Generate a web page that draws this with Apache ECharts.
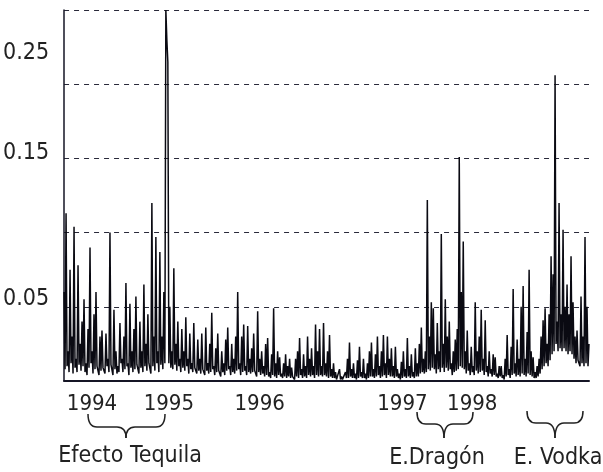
<!DOCTYPE html>
<html>
<head>
<meta charset="utf-8">
<script src="https://cdn.jsdelivr.net/npm/echarts@6/dist/echarts.min.js"></script>
<style>
html,body{margin:0;padding:0;background:#fff;}
#chart{width:603px;height:472px;}
</style>
</head>
<body>
<div id="chart"></div>
<script>
// Volatility series (one value per pixel column of the plot)
const volatility = [
.06,.008,.113,.01,.02,.006,.075,.012,.03,.005,.104,.009,.015,.006,.078,.011,.025,.007,.04,.01,
.055,.006,.012,.004,.035,.009,.09,.012,.02,.005,.045,.008,.06,.01,.01,.004,.03,.007,.034,.009,
.008,.005,.032,.01,.015,.006,.10,.011,.012,.004,.048,.008,.02,.005,.01,.006,.039,.012,.015,.006,
.03,.008,.066,.01,.012,.004,.052,.009,.02,.006,.035,.008,.057,.011,.01,.005,.04,.009,.02,.006,
.065,.01,.025,.007,.045,.012,.013,.005,.12,.01,.03,.007,.097,.012,.02,.006,.087,.011,.03,.008,
.06,.012,.25,.23,.215,.012,.05,.009,.02,.008,.076,.011,.025,.007,.04,.01,.015,.006,.035,.009,
.02,.007,.043,.01,.015,.005,.032,.008,.012,.006,.039,.009,.01,.005,.028,.007,.015,.005,.032,.008,
.008,.004,.036,.007,.012,.005,.025,.006,.046,.008,.01,.004,.022,.006,.032,.007,.008,.003,.02,.006,
.012,.004,.028,.007,.036,.008,.01,.004,.025,.006,.015,.005,.03,.007,.06,.008,.012,.004,.03,.006,
.038,.007,.01,.004,.037,.006,.015,.005,.022,.006,.032,.007,.008,.003,.047,.006,.015,.004,.02,.005,
.01,.003,.025,.004,.029,.003,.006,.002,.018,.004,.049,.003,.012,.002,.02,.004,.016,.003,.005,.002,
.012,.003,.018,.002,.01,.003,.015,.002,.009,.003,.004,.001,.015,.003,.02,.002,.029,.004,.008,.002,
.018,.003,.01,.002,.03,.004,.015,.003,.022,.004,.01,.002,.038,.004,.02,.003,.035,.004,.01,.003,
.039,.004,.012,.003,.02,.002,.031,.003,.008,.002,.012,.002,.006,.001,.002,.001,.008,.001,.003,.001,
.001,.001,.006,.002,.015,.002,.026,.003,.008,.002,.012,.002,.005,.001,.014,.002,.023,.003,.006,.002,
.015,.002,.005,.001,.012,.002,.02,.003,.026,.003,.008,.002,.018,.003,.03,.004,.01,.002,.02,.003,
.031,.004,.012,.002,.03,.004,.015,.003,.022,.003,.01,.002,.023,.003,.008,.002,.005,.001,.013,.002,
.02,.003,.008,.002,.029,.003,.01,.002,.018,.003,.006,.002,.022,.003,.012,.003,.025,.005,.036,.006,
.015,.005,.02,.006,.122,.008,.03,.007,.053,.009,.049,.008,.018,.005,.039,.008,.02,.006,.099,.009,
.025,.006,.055,.009,.03,.007,.04,.008,.012,.004,.02,.006,.028,.007,.035,.008,.151,.01,.06,.009,
.094,.008,.02,.005,.034,.007,.012,.004,.023,.006,.01,.004,.053,.007,.02,.005,.03,.006,.048,.007,
.015,.004,.041,.006,.01,.003,.02,.005,.008,.003,.018,.004,.016,.003,.005,.002,.01,.003,.01,.002,
.004,.001,.015,.003,.031,.004,.008,.002,.023,.004,.062,.005,.012,.003,.028,.004,.015,.003,.05,.005,
.064,.004,.015,.003,.033,.005,.075,.004,.02,.003,.016,.002,.006,.002,.01,.003,.015,.005,.03,.008,
.041,.01,.049,.012,.025,.01,.045,.014,.084,.018,.072,.02,.206,.025,.04,.02,.12,.022,.045,.02,
.102,.022,.05,.02,.065,.018,.045,.02,.084,.018,.053,.015,.03,.012,.034,.014,.015,.01,.057,.012,
.03,.01,.097,.012,.05,.01,.025
];
const observations = volatility.map((_, i) => i);

// Year tick labels and the observation where each is printed
const yearLabels = ['1994', '1995', '1996', '1997', '1998'];
const yearIndex  = [28, 105, 196, 339, 409];

// Y tick labels that are printed
const yTickLabels = ['0.05', '0.15', '0.25'];

// Episode annotations
const episodeNames = ['Efecto Tequila', 'E.Dragón', 'E. Vodka'];

const chart = echarts.init(document.getElementById('chart'), null, {renderer: 'canvas'});
const FONT = "'Liberation Sans Narrow','Arial Narrow','DejaVu Sans Condensed',sans-serif";
const braceStyle = {stroke: '#222', lineWidth: 1.5, fill: null};

function brace(xa, xb, xt, y0, y1, y2) {
  const r = 9;
  return {
    type: 'group',
    children: [
      {type: 'bezierCurve', shape: {x1: xa, y1: y0, cpx1: xa, cpy1: y1, x2: xa + r, y2: y1}, style: braceStyle},
      {type: 'line', shape: {x1: xa + r, y1: y1, x2: xt - r, y2: y1}, style: braceStyle},
      {type: 'bezierCurve', shape: {x1: xt - r, y1: y1, cpx1: xt, cpy1: y1, x2: xt, y2: y2}, style: braceStyle},
      {type: 'bezierCurve', shape: {x1: xt, y1: y2, cpx1: xt, cpy1: y1, x2: xt + r, y2: y1}, style: braceStyle},
      {type: 'line', shape: {x1: xt + r, y1: y1, x2: xb - r, y2: y1}, style: braceStyle},
      {type: 'bezierCurve', shape: {x1: xb - r, y1: y1, cpx1: xb, cpy1: y1, x2: xb, y2: y0}, style: braceStyle}
    ]
  };
}

const option = {
  animation: false,
  backgroundColor: '#ffffff',
  grid: {left: 63, right: 14, top: 10, bottom: 91, containLabel: false},
  xAxis: {
    type: 'category',
    data: observations,
    boundaryGap: false,
    axisLine: {show: true, lineStyle: {color: '#151525', width: 2}},
    axisTick: {show: false},
    splitLine: {show: false},
    axisLabel: {
      show: true,
      interval: (idx) => yearIndex.indexOf(idx) >= 0,
      formatter: (v, idx) => {
        const k = yearIndex.indexOf(idx);
        return k >= 0 ? yearLabels[k] : '';
      },
      margin: 12,
      color: '#222',
      fontFamily: FONT,
      fontSize: 22
    }
  },
  yAxis: {
    type: 'value',
    min: 0,
    max: 0.25,
    interval: 0.05,
    axisLine: {show: true, lineStyle: {color: '#151525', width: 1.5}},
    axisTick: {show: false},
    splitLine: {show: true, lineStyle: {color: '#2a2a3a', width: 1, type: [5, 5]}},
    axisLabel: {
      margin: 15,
      color: '#222',
      fontFamily: FONT,
      fontSize: 23,
      formatter: (v) => {
        const s = v.toFixed(2);
        if (yTickLabels.indexOf(s) < 0) return '';
        const key = s === '0.25' ? 'a' : (s === '0.15' ? 'b' : 'c');
        return '{' + key + '|' + s + '}';
      },
      rich: {
        a: {fontFamily: FONT, fontSize: 23, color: '#222', padding: [86, 0, 0, 0]},
        b: {fontFamily: FONT, fontSize: 23, color: '#222', padding: [0, 0, 10, 0]},
        c: {fontFamily: FONT, fontSize: 23, color: '#222', padding: [0, 0, 16, 0]}
      }
    }
  },
  series: [{
    type: 'line',
    data: volatility,
    symbol: 'none',
    lineStyle: {color: '#0a0a12', width: 1.5},
    silent: true
  }],
  graphic: [
    brace(88, 165, 126, 414, 427, 438),
    brace(417, 473, 444, 412, 424, 438),
    brace(527, 583, 555, 411, 423, 438),
    {type: 'text', x: 130, y: 456, style: {text: episodeNames[0], font: '23px ' + FONT, fill: '#222', textAlign: 'center', textVerticalAlign: 'middle'}},
    {type: 'text', x: 437, y: 458, style: {text: episodeNames[1], font: '23px ' + FONT, fill: '#222', textAlign: 'center', textVerticalAlign: 'middle'}},
    {type: 'text', x: 558, y: 458, style: {text: episodeNames[2], font: '23px ' + FONT, fill: '#222', textAlign: 'center', textVerticalAlign: 'middle'}}
  ]
};
chart.setOption(option);
</script>
</body>
</html>
